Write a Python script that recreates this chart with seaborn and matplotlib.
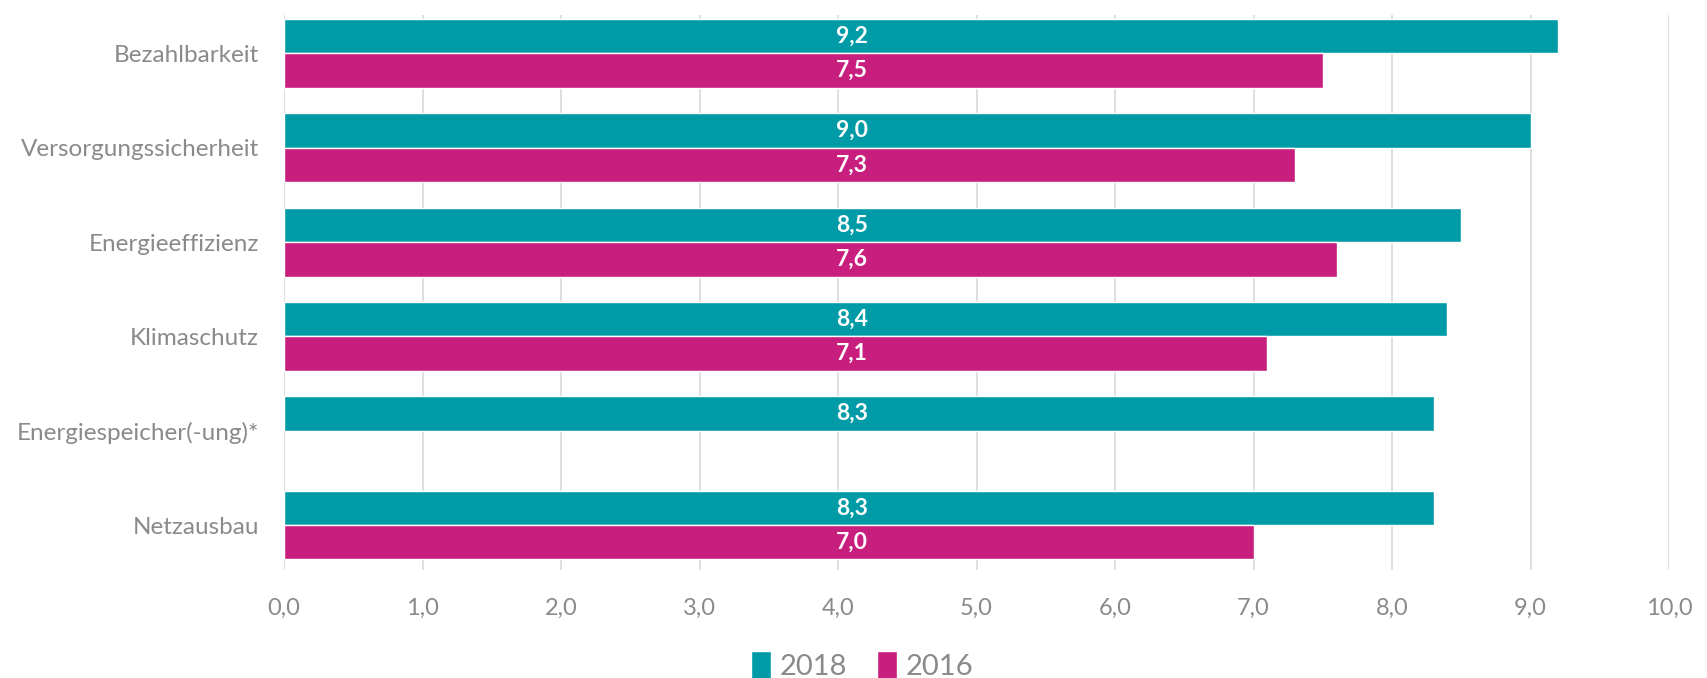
import pandas as pd
import seaborn as sns
import matplotlib.pyplot as plt
from matplotlib.ticker import FuncFormatter, MultipleLocator
from matplotlib.patches import Patch

kategorien = ['Bezahlbarkeit', 'Versorgungssicherheit', 'Energieeffizienz',
              'Klimaschutz', 'Energiespeicher(-ung)*', 'Netzausbau']
werte_2018 = [9.2, 9.0, 8.5, 8.4, 8.3, 8.3]
werte_2016 = [7.5, 7.3, 7.6, 7.1, None, 7.0]
jahre = ['2018', '2016']
farben = ['#009BA6', '#C81E7E']
grau = '#8A8A8A'

df = pd.DataFrame({
    'Kategorie': kategorien * 2,
    'Jahr': ['2018'] * len(kategorien) + ['2016'] * len(kategorien),
    'Wert': werte_2018 + werte_2016,
})

sns.set_theme(style='white')
plt.rcParams['font.family'] = ['Lato', 'DejaVu Sans']

fig = plt.figure(figsize=(17.07, 6.78), dpi=100)
ax = fig.add_axes([0.1664, 0.1593, 0.8114, 0.8186])

sns.barplot(data=df, y='Kategorie', x='Wert', hue='Jahr', hue_order=jahre,
            order=kategorien, palette=farben, orient='h', width=0.73,
            saturation=1, ax=ax, legend=False)

# Werte-Labels, alle an gleicher x-Position wie im Original
for cont in ax.containers:
    for bar in cont:
        w = bar.get_width()
        if not w == w or w == 0:
            continue
        ax.text(4.1, bar.get_y() + bar.get_height() / 2,
                f'{w:.1f}'.replace('.', ','), ha='center', va='center',
                color='white', fontsize=16.5, fontweight='bold')

ax.set_xlim(0, 10)
ax.set_ylim(5.477, -0.408)
ax.xaxis.set_major_locator(MultipleLocator(1))
ax.xaxis.set_major_formatter(FuncFormatter(lambda v, p: f'{v:.1f}'.replace('.', ',')))
ax.grid(axis='x', color='#D9D9D9', linewidth=1.2)
ax.set_axisbelow(True)
for s in ax.spines.values():
    s.set_visible(False)
ax.set_xlabel('')
ax.set_ylabel('')
ax.tick_params(axis='x', length=0, pad=20, labelsize=17, labelcolor=grau)
ax.tick_params(axis='y', length=0, pad=18, labelsize=17.5, labelcolor=grau)

handles = [Patch(facecolor=c, label=j) for c, j in zip(farben, jahre)]
fig.legend(handles=handles, loc='center', bbox_to_anchor=(0.505, 0.019), ncol=2,
           frameon=False, fontsize=21, labelcolor=grau, handlelength=0.7,
           handleheight=1.1, handletextpad=0.3, columnspacing=1.0)

fig.savefig('out.png', dpi=100)
